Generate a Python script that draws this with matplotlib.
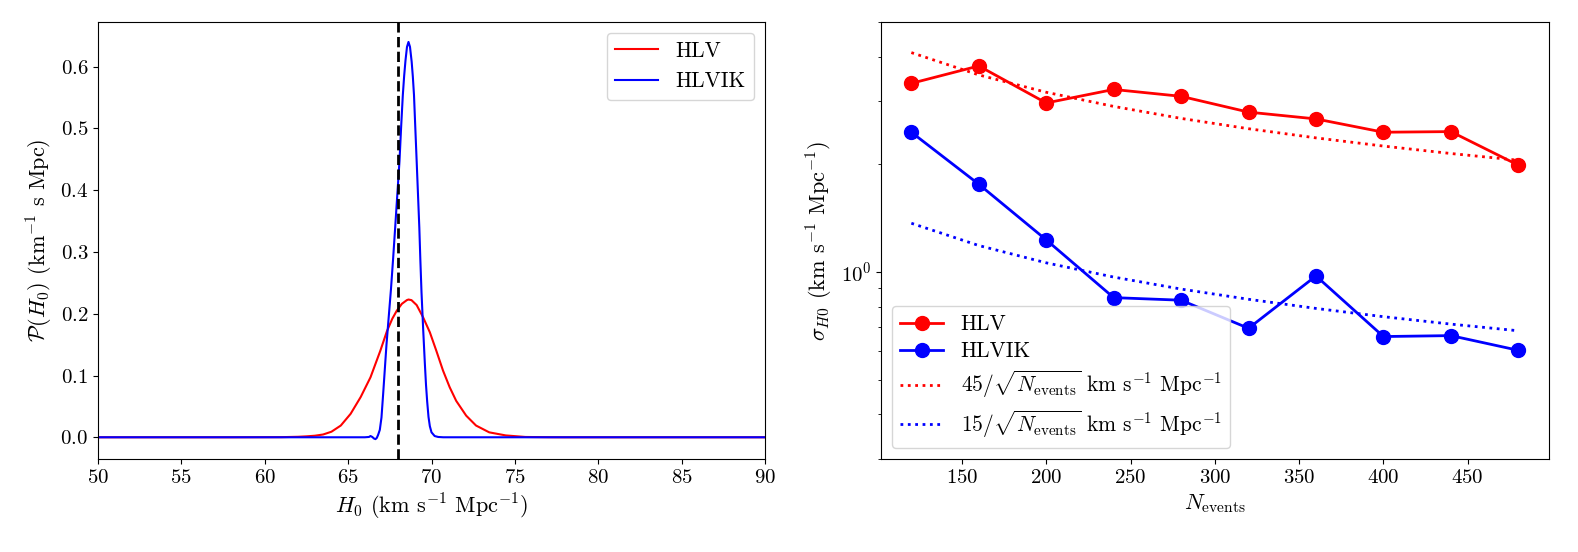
import numpy as np
import matplotlib
matplotlib.use("Agg")
import matplotlib.pyplot as plt

plt.rcParams['font.family'] = 'serif'
plt.rcParams['font.serif'] = ['cmr10', 'DejaVu Serif']
plt.rcParams['mathtext.fontset'] = 'cm'
plt.rcParams['axes.formatter.use_mathtext'] = True
plt.rcParams['font.size'] = 16
plt.rcParams['xtick.labelsize'] = 15
plt.rcParams['ytick.labelsize'] = 15
plt.rcParams['legend.fontsize'] = 15.5

# --- left panel: posteriors on H0 ---
h0_hlv = [50, 58, 61, 62, 62.5, 63.0, 63.5, 64.0, 64.56, 65.15, 65.75, 66.34,
          66.93, 67.33, 67.65, 67.92, 68.22, 68.52, 68.62, 68.8, 69.11, 69.5,
          69.9, 70.29, 70.69, 71.09, 71.48, 72.08, 72.67, 73.46, 74.45, 75.63,
          77, 78, 90]
p_hlv = [0, 0, 0.0002, 0.0008, 0.0015, 0.0025, 0.0045, 0.009, 0.019, 0.038,
         0.065, 0.097, 0.140, 0.172, 0.192, 0.205, 0.216, 0.222, 0.223, 0.222,
         0.214, 0.194, 0.170, 0.140, 0.108, 0.081, 0.059, 0.035, 0.019, 0.008,
         0.003, 0.0005, 0.0001, 0, 0]

h0_hlvik = [50, 66.0, 66.25, 66.34, 66.45, 66.55, 66.64, 66.72, 66.8, 66.9,
            67.0, 67.1, 67.2, 67.3, 67.45, 67.57, 67.7, 67.82, 67.95, 68.08,
            68.18, 68.28, 68.36, 68.44, 68.53, 68.62, 68.71, 68.81, 68.88, 68.95,
            69.03, 69.11, 69.19, 69.27, 69.33, 69.4, 69.5, 69.6, 69.67, 69.74,
            69.82, 69.9, 70.0, 70.19, 70.4, 70.7, 90]
p_hlvik = [0, 0, 0.0005, 0.002, 0.0005, -0.002, -0.003, -0.001, 0.004, 0.012,
           0.032, 0.070, 0.110, 0.150, 0.200, 0.240, 0.290, 0.339, 0.393, 0.447,
           0.503, 0.554, 0.585, 0.610, 0.632, 0.640, 0.632, 0.608, 0.584, 0.554,
           0.500, 0.447, 0.393, 0.339, 0.288, 0.235, 0.175, 0.120, 0.085, 0.058,
           0.033, 0.018, 0.008, 0.002, 0.0005, 0, 0]

h0_true = 68

# --- right panel: sigma(H0) vs number of events ---
n_events = [120, 160, 200, 240, 280, 320, 360, 400, 440, 480]
sigma_hlv = [3.37, 3.77, 2.97, 3.24, 3.10, 2.80, 2.68, 2.46, 2.47, 1.99]
sigma_hlvik = [2.46, 1.76, 1.23, 0.848, 0.834, 0.696, 0.975, 0.660, 0.664, 0.604]
# 45/sqrt(N) and 15/sqrt(N) reference curves
ref_hlv = [4.108, 3.558, 3.182, 2.905, 2.689, 2.516, 2.372, 2.250, 2.145, 2.054]
ref_hlvik = [1.369, 1.186, 1.061, 0.968, 0.896, 0.839, 0.791, 0.750, 0.715, 0.685]

fig = plt.figure(figsize=(15.78, 5.52), dpi=100)
ax1 = fig.add_axes([0.0621, 0.1685, 0.4227, 0.7915])
ax2 = fig.add_axes([0.5583, 0.1685, 0.4231, 0.7915])

# Left: posterior
ax1.plot(h0_hlv, p_hlv, color='red', lw=1.5, label='HLV')
ax1.plot(h0_hlvik, p_hlvik, color='blue', lw=1.5, label='HLVIK')
ax1.axvline(h0_true, color='black', ls='--', lw=2)
ax1.set_xlim(50, 90)
ax1.set_xlabel(r'$H_0$ (km s$^{-1}$ Mpc$^{-1}$)')
ax1.set_ylabel(r'$\mathcal{P}(H_0)$ (km$^{-1}$ s Mpc)')
ax1.legend(loc='upper right')

# Right: sigma vs N
ax2.plot(n_events, sigma_hlv, 'o-', color='red', lw=2, markersize=10, label='HLV')
ax2.plot(n_events, sigma_hlvik, 'o-', color='blue', lw=2, markersize=10, label='HLVIK')
ax2.plot(n_events, ref_hlv, ':', color='red', lw=2,
         label=r'$45/\sqrt{N_{\rm events}}$ km s$^{-1}$ Mpc$^{-1}$')
ax2.plot(n_events, ref_hlvik, ':', color='blue', lw=2,
         label=r'$15/\sqrt{N_{\rm events}}$ km s$^{-1}$ Mpc$^{-1}$')
ax2.set_yscale('log')
ax2.set_ylim(0.3, 5)
ax2.set_xlabel(r'$N_{\rm events}$')
ax2.set_ylabel(r'$\sigma_{H0}$ (km s$^{-1}$ Mpc$^{-1}$)')
ax2.legend(loc='lower left', labelspacing=0.35)

fig.savefig('out.png', dpi=100)
